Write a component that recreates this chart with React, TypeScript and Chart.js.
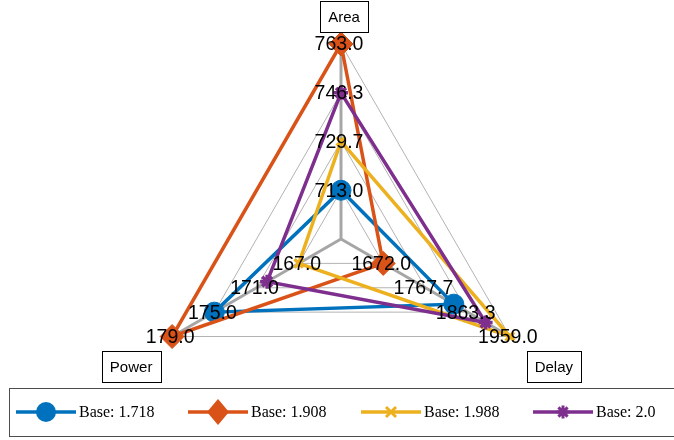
import { useEffect, useRef } from 'react';
import { Chart, registerables } from 'chart.js';

Chart.register(...registerables);

// Axes in Chart.js order (clockwise from the top)
const axisNames = ['Area', 'Delay', 'Power'];
const areaTicks = [713.0, 729.7, 746.3, 763.0];
const delayTicks = [1672.0, 1767.7, 1863.3, 1959.0];
const powerTicks = [167.0, 171.0, 175.0, 179.0];

const seriesNames = ['Base: 1.718', 'Base: 1.908', 'Base: 1.988', 'Base: 2.0'];
// values per series: [Area, Delay, Power]
const base1718 = [713.0, 1832.0, 175.0];
const base1908 = [763.0, 1672.0, 179.0];
const base1988 = [729.7, 1959.0, 167.0];
const base2000 = [746.3, 1904.0, 170.0];

const seriesColors = ['#0072BD', '#D95319', '#EDB120', '#7E2F8E'];

const axisTicks = [areaTicks, delayTicks, powerTicks];
const seriesValues = [base1718, base1908, base1988, base2000];

const norm = (v: number, ticks: number[]) =>
  1 + (3 * (v - ticks[0])) / (ticks[ticks.length - 1] - ticks[0]);

const pointStyles = ['circle', 'rectRot', 'crossRot', 'star'];
const pointRadii = [10, 12, 6, 7];

function drawMarker(ctx: CanvasRenderingContext2D, kind: number, x: number, y: number, color: string) {
  ctx.save();
  ctx.fillStyle = color;
  ctx.strokeStyle = color;
  ctx.lineWidth = 3;
  ctx.beginPath();
  if (kind === 0) {
    ctx.arc(x, y, 10, 0, Math.PI * 2);
    ctx.fill();
  } else if (kind === 1) {
    ctx.moveTo(x, y - 13);
    ctx.lineTo(x + 11, y);
    ctx.lineTo(x, y + 13);
    ctx.lineTo(x - 11, y);
    ctx.closePath();
    ctx.fill();
  } else if (kind === 2) {
    const r = 5;
    ctx.moveTo(x - r, y - r);
    ctx.lineTo(x + r, y + r);
    ctx.moveTo(x + r, y - r);
    ctx.lineTo(x - r, y + r);
    ctx.stroke();
  } else {
    const r = 6.5;
    for (let k = 0; k < 4; k++) {
      const a = (k * Math.PI) / 4;
      ctx.moveTo(x - r * Math.cos(a), y - r * Math.sin(a));
      ctx.lineTo(x + r * Math.cos(a), y + r * Math.sin(a));
    }
    ctx.stroke();
  }
  ctx.restore();
}

const overlayPlugin = {
  id: 'overlay',
  afterDatasetsDraw(chart: any) {
    const ctx: CanvasRenderingContext2D = chart.ctx;
    const scale = chart.scales.r;
    ctx.save();
    // tick labels per axis
    ctx.font = '19.5px "Liberation Sans", Arial, sans-serif';
    ctx.fillStyle = '#000';
    ctx.textAlign = 'center';
    ctx.textBaseline = 'middle';
    axisTicks.forEach((ticks, i) => {
      ticks.forEach((t, k) => {
        const p = scale.getPointPositionForValue(i, k + 1);
        ctx.fillText(t.toFixed(1), p.x - 2, p.y + 1);
      });
    });
    // axis label boxes
    const offs = [
      [3, -27.5],
      [44, 30],
      [-41, 30],
    ];
    ctx.font = '15px "Liberation Sans", Arial, sans-serif';
    axisNames.forEach((name, i) => {
      const p = scale.getPointPositionForValue(i, 4);
      const cx = p.x + offs[i][0];
      const cy = p.y + offs[i][1];
      const w = Math.round(ctx.measureText(name).width + 16);
      const h = 31;
      const x0 = Math.round(cx - w / 2) + 0.5;
      const y0 = Math.round(cy - h / 2) + 0.5;
      ctx.fillStyle = '#fff';
      ctx.fillRect(x0, y0, w, h);
      ctx.strokeStyle = '#000';
      ctx.lineWidth = 1;
      ctx.strokeRect(x0, y0, w, h);
      ctx.fillStyle = '#000';
      ctx.fillText(name, cx, cy + 1);
    });
    // legend
    ctx.fillStyle = '#fff';
    ctx.fillRect(9.5, 388.5, 700, 48);
    ctx.strokeStyle = '#4d4d4d';
    ctx.lineWidth = 1;
    ctx.strokeRect(9.5, 388.5, 700, 48);
    const lx = [16, 188, 361, 533];
    const ly = 412;
    ctx.font = '16px "Liberation Serif", "Times New Roman", serif';
    ctx.textAlign = 'left';
    seriesNames.forEach((name, i) => {
      ctx.strokeStyle = seriesColors[i];
      ctx.lineWidth = 3.5;
      ctx.beginPath();
      ctx.moveTo(lx[i], ly);
      ctx.lineTo(lx[i] + 60, ly);
      ctx.stroke();
      drawMarker(ctx, i, lx[i] + 30, ly, seriesColors[i]);
      ctx.fillStyle = '#000';
      ctx.fillText(name, lx[i] + 63, ly + 1);
    });
    ctx.restore();
  },
};

export default function App() {
  const ref = useRef<HTMLCanvasElement | null>(null);
  useEffect(() => {
    if (!ref.current) return;
    const datasets = seriesValues.map((vals, i) => ({
      label: seriesNames[i],
      data: vals.map((v, j) => norm(v, axisTicks[j])),
      borderColor: seriesColors[i],
      backgroundColor: 'rgba(0,0,0,0)',
      borderWidth: 3.5,
      fill: false,
      pointStyle: pointStyles[i] as any,
      pointRadius: pointRadii[i],
      pointBackgroundColor: seriesColors[i],
      pointBorderColor: seriesColors[i],
      pointBorderWidth: i < 2 ? 1 : 3.5,
      order: 3 - i,
    }));
    const chart = new Chart(ref.current, {
      type: 'radar',
      data: { labels: axisNames, datasets },
      options: {
        responsive: false,
        animation: false,
        layout: { padding: { left: 146, right: 138, top: 44, bottom: 6 } },
        plugins: { legend: { display: false }, tooltip: { enabled: false } },
        scales: {
          r: {
            min: 0,
            max: 4,
            ticks: { display: false, stepSize: 1 },
            pointLabels: { display: false },
            grid: { color: '#b3b3b3', lineWidth: 1 },
            angleLines: { color: '#a6a6a6', lineWidth: 3 },
          },
        },
      },
      plugins: [overlayPlugin],
    });
    return () => chart.destroy();
  }, []);
  return (
    <div style={{ position: 'fixed', left: 0, top: 0, width: 674, height: 440, background: '#fff' }}>
      <canvas ref={ref} width={674} height={440} />
    </div>
  );
}
